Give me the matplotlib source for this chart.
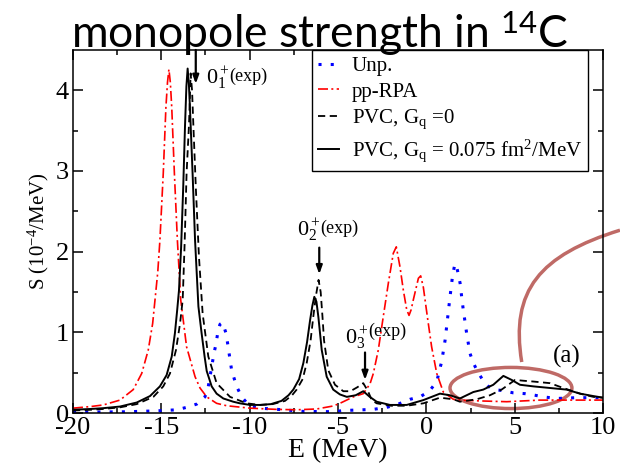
import matplotlib
matplotlib.use("Agg")
from matplotlib import pyplot as plt
from matplotlib.patches import Ellipse, PathPatch
from matplotlib.path import Path

plt.rcParams["font.family"] = "Liberation Serif"
plt.rcParams["mathtext.fontset"] = "custom"
plt.rcParams["mathtext.rm"] = "Liberation Serif"
plt.rcParams["mathtext.it"] = "Liberation Serif:italic"
plt.rcParams["mathtext.sf"] = "Lato"
plt.rcParams["axes.unicode_minus"] = False

# Unp. (blue dotted)
e_unp = [-20.0, -17.0, -15.50, -14.89, -14.13, -13.57, -13.00, -12.53, -12.34, -12.15,
         -12.02, -11.90, -11.81, -11.68, -11.53, -11.34, -11.23, -11.15, -11.02, -10.74,
         -10.45, -9.98, -9.42, -8.10, -7.00, -5.27, -4.70, -3.94, -3.00, -2.24,
         -1.59, -0.92, -0.36, 0.17, 0.59, 0.87, 1.06, 1.19, 1.34, 1.49,
         1.60, 1.68, 1.81, 1.91, 2.00, 2.09, 2.19, 2.28, 2.47, 2.66,
         2.91, 3.19, 3.51, 3.79, 4.26, 4.92, 5.58, 6.15, 6.62, 7.38,
         8.51, 9.17, 10.0]
s_unp = [0.01, 0.015, 0.025, 0.03, 0.04, 0.07, 0.11, 0.20, 0.33, 0.57,
         0.74, 0.86, 0.99, 1.10, 1.12, 0.99, 0.84, 0.72, 0.53, 0.33,
         0.20, 0.08, 0.06, 0.04, 0.02, 0.016, 0.03, 0.037, 0.045, 0.07,
         0.11, 0.17, 0.20, 0.27, 0.39, 0.64, 0.90, 1.15, 1.44, 1.71,
         1.83, 1.85, 1.72, 1.61, 1.44, 1.28, 1.13, 0.99, 0.74, 0.62,
         0.51, 0.41, 0.33, 0.29, 0.28, 0.25, 0.24, 0.22, 0.20, 0.18,
         0.19, 0.19, 0.19]

# pp-RPA (red dash-dot)
e_rpa = [-20.0, -19.0, -18.28, -17.34, -16.59, -16.11, -15.74, -15.49, -15.34, -15.20,
         -15.08, -14.89, -14.74, -14.65, -14.57, -14.49, -14.41, -14.26, -14.09, -13.90,
         -13.57, -13.09, -12.81, -12.43, -11.87, -11.30, -9.98, -8.50, -7.34, -6.20,
         -5.27, -4.89, -4.13, -3.57, -3.19, -3.00, -2.72, -2.44, -2.15, -1.87,
         -1.70, -1.49, -1.30, -1.11, -0.98, -0.86, -0.74, -0.45, -0.32, -0.17,
         0.06, 0.30, 0.59, 0.96, 1.53, 1.90, 3.00, 4.55, 6.43, 8.00, 10.0]
s_rpa = [0.06, 0.08, 0.10, 0.16, 0.29, 0.49, 0.78, 1.11, 1.44, 1.75,
         2.14, 2.97, 3.79, 4.10, 4.26, 4.10, 3.79, 2.97, 2.14, 1.40,
         0.82, 0.45, 0.31, 0.20, 0.12, 0.09, 0.06, 0.045, 0.04, 0.05,
         0.087, 0.12, 0.20, 0.24, 0.36, 0.49, 0.78, 1.19, 1.61, 1.98,
         2.06, 1.81, 1.52, 1.28, 1.21, 1.28, 1.40, 1.67, 1.70, 1.56,
         1.19, 0.82, 0.49, 0.26, 0.17, 0.16, 0.15, 0.14, 0.16, 0.16, 0.16]

# PVC, Gq = 0 (black dashed)
e_pvc0 = [-20.0, -19.0, -18.28, -17.34, -16.39, -15.45, -14.89, -14.51, -14.17, -13.94,
          -13.79, -13.68, -13.57, -13.43, -13.34, -13.26, -13.19, -13.04, -12.87, -12.66,
          -12.34, -11.87, -11.11, -10.17, -9.42, -8.70, -8.00, -7.60, -7.34, -7.00,
          -6.77, -6.55, -6.40, -6.25, -6.10, -5.98, -5.88, -5.79, -5.55, -5.17,
          -4.70, -4.30, -3.90, -3.57, -3.30, -3.09, -2.81, -2.00, -1.11, -0.17,
          0.77, 1.53, 1.90, 2.85, 3.60, 4.26, 5.02, 5.50, 6.06, 7.00,
          7.75, 8.70, 9.45, 10.0]
s_pvc0 = [0.03, 0.04, 0.05, 0.07, 0.11, 0.20, 0.33, 0.49, 0.78, 1.11,
          1.40, 2.10, 2.97, 3.59, 4.21, 4.00, 3.59, 2.76, 1.94, 1.23,
          0.70, 0.37, 0.20, 0.12, 0.10, 0.11, 0.15, 0.22, 0.29, 0.42,
          0.62, 0.90, 1.19, 1.45, 1.65, 1.50, 1.20, 0.90, 0.53, 0.35,
          0.27, 0.27, 0.32, 0.37, 0.27, 0.16, 0.12, 0.09, 0.09, 0.12,
          0.19, 0.17, 0.14, 0.17, 0.22, 0.29, 0.41, 0.40, 0.39, 0.37,
          0.31, 0.24, 0.20, 0.19]

# PVC, Gq = 0.075 fm^2/MeV (black solid)
e_pvc = [-20.0, -19.0, -18.28, -17.34, -16.39, -15.64, -15.08, -14.70, -14.41, -14.23,
         -14.10, -14.00, -13.88, -13.76, -13.66, -13.58, -13.51, -13.44, -13.38, -13.23,
         -13.09, -12.90, -12.72, -12.55, -12.43, -12.15, -11.87, -11.49, -10.93, -10.55,
         -9.98, -9.42, -8.80, -8.20, -7.80, -7.53, -7.20, -6.96, -6.75, -6.58,
         -6.45, -6.34, -6.22, -6.11, -5.92, -5.64, -5.27, -4.89, -4.50, -4.00,
         -3.57, -3.20, -2.81, -2.06, -1.11, -0.17, 0.77, 1.34, 1.90, 2.66,
         3.22, 3.79, 4.36, 4.83, 5.30, 6.06, 7.00, 7.94, 8.70, 9.45, 10.0]
s_pvc = [0.04, 0.05, 0.06, 0.08, 0.13, 0.21, 0.33, 0.47, 0.70, 0.99,
         1.28, 1.52, 2.05, 2.80, 3.55, 4.05, 4.27, 4.08, 3.79, 2.97,
         2.14, 1.32, 0.99, 0.70, 0.52, 0.33, 0.24, 0.18, 0.14, 0.12,
         0.10, 0.10, 0.11, 0.15, 0.22, 0.29, 0.42, 0.62, 0.88, 1.15,
         1.33, 1.44, 1.38, 1.19, 0.78, 0.45, 0.29, 0.23, 0.20, 0.22,
         0.27, 0.20, 0.14, 0.10, 0.10, 0.16, 0.24, 0.22, 0.18, 0.26,
         0.29, 0.35, 0.46, 0.41, 0.35, 0.33, 0.31, 0.29, 0.24, 0.21, 0.19]

fig = plt.figure(figsize=(6.2, 4.69), dpi=100)
ax = fig.add_axes([0.1177, 0.1194, 0.8549, 0.774])

ax.plot(e_unp, s_unp, color="#0000ff", lw=2.2, linestyle=(0, (1, 3)),
        dash_capstyle="butt", label="Unp.")
ax.plot(e_rpa, s_rpa, color="#ff0000", lw=1.2, linestyle=(0, (6, 2, 1.2, 2)),
        label="pp-RPA")
ax.plot(e_pvc0, s_pvc0, color="black", lw=1.3, linestyle=(0, (4, 2.5)),
        label=r"PVC, G$_\mathrm{q}$ =0")
ax.plot(e_pvc, s_pvc, color="black", lw=1.4,
        label=r"PVC, G$_\mathrm{q}$ = 0.075 fm$^2$/MeV")

ax.set_xlim(-20, 10)
ax.set_ylim(0, 4.5)
ax.set_xticks([-20, -15, -10, -5, 0, 5, 10])
ax.set_xticks([-17.5, -12.5, -7.5, -2.5, 2.5, 7.5], minor=True)
ax.set_yticks([0, 1, 2, 3, 4])
ax.set_yticks([0.5, 1.5, 2.5, 3.5], minor=True)
ax.tick_params(which="both", direction="in", top=True, right=True, labelsize=19, width=1.1)
ax.tick_params(which="major", length=7, pad=3)
ax.tick_params(which="minor", length=3.6)
for sp in ax.spines.values():
    sp.set_linewidth(1.1)
ax.set_xlabel("E (MeV)", fontsize=20, labelpad=-1)
ax.set_ylabel(r"S (10$^{-4}$/MeV)", fontsize=15, labelpad=3)

leg = ax.legend(loc="upper left", bbox_to_anchor=(0.451, 1.0), borderaxespad=0,
                prop={"family": "Liberation Serif", "size": 15}, handlelength=1.0,
                handletextpad=0.6, labelspacing=0.3, borderpad=0.3,
                fancybox=False, framealpha=1, edgecolor="black")
leg.get_frame().set_linewidth(1.0)

# experimental states
arrow = dict(arrowstyle="-|>,head_length=0.5,head_width=0.18", color="black", lw=1.6,
             shrinkA=0, shrinkB=0)
ax.annotate("", xy=(-13.05, 4.08), xytext=(-13.05, 4.5), arrowprops=arrow)
ax.annotate("", xy=(-6.06, 1.72), xytext=(-6.06, 2.05), arrowprops=arrow)
ax.annotate("", xy=(-3.47, 0.41), xytext=(-3.47, 0.75), arrowprops=arrow)
ax.text(-12.45, 4.09, r"$0^+_1$", fontsize=16)
ax.text(-11.15, 4.12, "(exp)", fontsize=13)
ax.text(-7.32, 2.20, r"$0^+_2$", fontsize=16)
ax.text(-6.02, 2.23, "(exp)", fontsize=13)
ax.text(-4.58, 0.86, r"$0^+_3$", fontsize=16)
ax.text(-3.28, 0.95, "(exp)", fontsize=13)
ax.text(7.17, 0.63, "(a)", fontsize=18)

# highlight of the high-energy region
ax.add_patch(Ellipse((4.79, 0.31), 6.9, 0.51, fill=False, edgecolor="#b85a55",
                     lw=2.5, alpha=0.9))
callout = Path([(5.40, 0.632), (4.735, 1.523), (6.434, 1.957), (10.96, 2.266)],
               [Path.MOVETO, Path.CURVE4, Path.CURVE4, Path.CURVE4])
ax.add_patch(PathPatch(callout, fill=False, edgecolor="#b85a55", lw=2.5, alpha=0.9,
                       clip_on=False))

fig.text(0.516, 0.898, r"monopole strength in $^{\mathsf{14}}$C", family="Lato",
         fontsize=32, ha="center", va="baseline")

fig.savefig("out.png", dpi=100)
